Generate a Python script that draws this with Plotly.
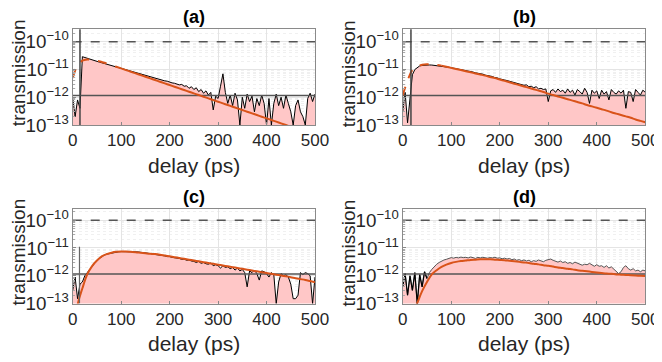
import plotly.graph_objects as go

# ---------------- data ----------------
delay = list(range(0, 505, 5))          # ps, measured trace grid
fit_delay = list(range(0, 510, 10))     # ps, fit grid
UNIT = 1e-12                            # measured values are given in units of 1e-12

data_a = [1.0, 0.2, 0.8, 0.4, 29, 27, 25, 24, 22, 21, 20, 18.5, 17.5, 16.5, 15.5, 14.5, 13.8, 13, 12.3, 11.6,
          11, 10.5, 9.9, 9.2, 8.7, 8.3, 7.7, 7.3, 6.9, 6.5, 6.1, 5.8, 5.5, 5.1, 4.9, 4.6, 4.4, 4.1, 3.9, 3.8,
          3.5, 3.3, 3.2, 3.0, 2.8, 2.9, 2.5, 2.6, 2.1, 2.4, 1.9, 2.2, 1.6, 1.9, 1.4, 1.7, 1.2, 1.5, 0.35, 1.1,
          0.9, 2.5, 7.0, 1.5, 0.6, 1.2, 0.5, 1.4, 0.8, 0.1, 1.0, 0.4, 1.3, 0.7, 1.1, 0.3, 0.9, 0.5, 1.2, 0.6,
          0.1, 0.9, 0.1, 0.6, 1.3, 0.5, 1.0, 0.4, 1.2, 0.6, 0.3, 0.1, 0.5, 0.8, 0.3, 0.2, 0.1, 0.9, 1.4, 0.7,
          1.3]
data_b = [0.3, 1.5, 0.12, 0.8, 6.5, 10, 12, 13.5, 14, 14.5, 14.8, 14.6, 14.5, 14.2, 14, 13.5, 13.2, 12.7, 12.4, 12,
          11.6, 11.2, 10.7, 10.4, 9.9, 9.6, 9.1, 8.8, 8.3, 8.1, 7.6, 7.4, 6.9, 6.8, 6.3, 6.1, 5.7, 5.6, 5.1, 5.0,
          4.6, 4.5, 4.2, 4.0, 3.8, 3.6, 3.4, 3.3, 3.0, 3.0, 2.7, 2.8, 2.4, 2.5, 2.2, 2.4, 2.0, 2.1, 1.9, 2.0,
          0.7, 1.7, 1.9, 1.5, 2.0, 1.6, 1.8, 1.4, 2.0, 1.5, 1.8, 1.2, 1.9, 1.6, 1.3, 2.1, 1.5, 0.6, 1.8, 1.4,
          1.7, 0.9, 1.8, 1.3, 1.6, 0.8, 1.9, 1.5, 1.3, 1.7, 1.4, 1.8, 0.4, 1.6, 1.5, 0.7, 1.9, 1.5, 1.2, 1.8,
          1.5]
data_c = [0.3, 0.9, 0.15, 0.5, 0.6, 1.0, 1.3, 1.7, 2.3, 2.9, 3.6, 4.2, 4.9, 5.5, 6.0, 6.3, 6.7, 6.9, 7.1, 7.3,
          7.4, 7.4, 7.5, 7.5, 7.4, 7.5, 7.3, 7.2, 7.0, 6.9, 6.6, 6.5, 6.3, 6.0, 5.9, 5.6, 5.6, 5.3, 5.2, 4.9,
          4.9, 4.6, 4.5, 4.3, 4.2, 3.9, 4.0, 3.6, 3.7, 3.4, 3.3, 3.0, 3.3, 2.8, 3.0, 2.7, 2.6, 2.9, 2.3, 2.5,
          2.3, 1.9, 2.3, 2.0, 2.1, 1.8, 2.0, 1.6, 1.9, 1.5, 1.7, 1.3, 0.4, 1.5, 1.3, 1.6, 1.2, 0.7, 1.5, 1.4,
          1.2, 0.9, 1.3, 1.1, 0.1, 0.6, 1.2, 1.0, 1.1, 0.9, 0.5, 0.15, 0.15, 0.2, 1.3, 1.1, 1.3, 1.2, 1.0, 0.1,
          0.9]
data_d = [0.4, 1.2, 0.2, 1.0, 0.3, 1.3, 0.1, 1.1, 0.4, 1.4, 0.8, 1.3, 1.7, 2.2, 2.6, 3.0, 3.4, 3.7, 3.9, 4.2,
          4.5, 4.3, 4.6, 4.4, 4.7, 4.5, 4.6, 4.4, 4.7, 4.5, 4.2, 4.6, 4.4, 4.6, 4.5, 4.3, 4.5, 4.4, 4.6, 4.3,
          4.4, 4.1, 4.3, 4.0, 4.2, 3.8, 4.0, 3.6, 3.8, 3.5, 3.7, 3.4, 3.6, 3.2, 3.5, 3.3, 3.7, 3.4, 3.2, 3.6,
          3.8, 4.0, 3.6, 3.3, 3.1, 3.4, 3.0, 3.2, 2.8, 3.0, 2.7, 3.1, 2.8, 2.6, 2.4, 2.6, 2.5, 2.8, 2.4, 2.2,
          2.5, 2.2, 2.3, 2.0, 2.3, 1.9, 2.1, 1.7, 1.4, 1.2, 1.4, 2.0, 2.3, 1.8, 1.6, 1.8, 1.5, 1.6, 1.4, 1.6,
          1.5]

# fits, log10 of transmission
fit_a_log = [-11.30, -10.85, -10.68, -10.64, -10.65, -10.68, -10.73, -10.78, -10.84, -10.90, -10.96,
             -11.02, -11.08, -11.14, -11.20, -11.26, -11.32, -11.38, -11.44, -11.50, -11.56,
             -11.62, -11.68, -11.74, -11.80, -11.86, -11.92, -11.98, -12.04, -12.10, -12.16,
             -12.22, -12.28, -12.34, -12.40, -12.46, -12.52, -12.58, -12.64, -12.70, -12.76,
             -12.82, -12.88, -12.94, -13.00, -13.06, -13.12, -13.18, -13.24, -13.30, -13.36]
fit_b_log = [-11.93, -11.40, -11.02, -10.88, -10.83, -10.81, -10.81, -10.83, -10.86, -10.90, -10.94,
             -10.98, -11.02, -11.06, -11.10, -11.14, -11.18, -11.22, -11.27, -11.31, -11.36,
             -11.41, -11.46, -11.51, -11.56, -11.61, -11.66, -11.71, -11.76, -11.81, -11.87,
             -11.92, -11.97, -12.02, -12.07, -12.12, -12.17, -12.22, -12.28, -12.33, -12.38,
             -12.43, -12.48, -12.54, -12.59, -12.64, -12.69, -12.74, -12.80, -12.85, -12.90]
fit_c_log = [-14.50, -13.05, -12.45, -11.95, -11.65, -11.45, -11.30, -11.22, -11.17, -11.14, -11.13,
             -11.13, -11.14, -11.15, -11.17, -11.19, -11.21, -11.22, -11.24, -11.27, -11.30,
             -11.33, -11.36, -11.39, -11.42, -11.45, -11.48, -11.51, -11.54, -11.57, -11.60,
             -11.63, -11.66, -11.69, -11.72, -11.75, -11.78, -11.81, -11.84, -11.87, -11.90,
             -11.93, -11.96, -11.99, -12.02, -12.05, -12.09, -12.12, -12.15, -12.19, -12.23]
fit_d_log = [-15.00, -14.20, -13.40, -12.98, -12.55, -12.22, -11.95, -11.80, -11.68, -11.60, -11.54,
             -11.50, -11.47, -11.45, -11.43, -11.42, -11.41, -11.41, -11.41, -11.42, -11.43,
             -11.44, -11.46, -11.48, -11.50, -11.52, -11.54, -11.57, -11.59, -11.62, -11.64,
             -11.67, -11.70, -11.72, -11.75, -11.77, -11.80, -11.82, -11.84, -11.86, -11.88,
             -11.90, -11.92, -11.93, -11.95, -11.96, -11.97, -11.98, -11.99, -12.00, -12.01]

panel_labels = ["(a)", "(b)", "(c)", "(d)"]
x_title = "delay (ps)"
y_title = "transmission"
fit_dashed_until = [100, 80, 0, 0]       # ps: fit drawn dashed before this delay
t0_marker = [15, 17, None, None]          # ps: full-height time-zero marker
t0_spike_c = (14, 1.1e-11)                # narrow spike in (c)
early_black_until_d = 50                  # ps: black noisy part in (d)
level_max = 1e-10                         # dashed reference level
level_noise = 1.15e-12                    # noise floor level
x_ticks = [0, 100, 200, 300, 400, 500]

# ---------------- layout helpers ----------------
# page offset: the browser body has an 8px margin
OFF = 8
W, H = 662 - OFF, 362 - OFF


def px_x(p):
    return (p - OFF) / W


def px_y(p):
    return 1 - (p - OFF) / H


xdom = [[px_x(72.7), px_x(315)], [px_x(402.7), px_x(645.3)]]
ydom = [[px_y(125), px_y(29.3)], [px_y(303.6), px_y(209.3)]]
plot_bottom = [125, 303.6]
plot_top = [29.3, 209.3]
col_left = [0, 330]
yrange = [[-13, -9.55], [-13, -9.61]]

FONT = "Liberation Sans, Arial, sans-serif"
TXT = "#262626"
PINK = "rgb(255,199,199)"
ORANGE = "#D95319"
REF = "#555555"

fig = go.Figure()

datas = [data_a, data_b, data_c, data_d]
fits = [fit_a_log, fit_b_log, fit_c_log, fit_d_log]

for i in range(4):
    r, c = divmod(i, 2)
    n = i + 1
    xa = "x" if n == 1 else f"x{n}"
    ya = "y" if n == 1 else f"y{n}"
    vals = [v * UNIT for v in datas[i]]

    # baseline for fill
    fig.add_trace(go.Scatter(x=[0, 500], y=[1e-14, 1e-14], mode="lines",
                             line=dict(width=0, color=PINK), showlegend=False,
                             hoverinfo="skip", xaxis=xa, yaxis=ya))
    edge = "#555555" if i == 3 else "black"
    fig.add_trace(go.Scatter(x=delay, y=vals, mode="lines", fill="tonexty",
                             fillcolor=PINK, line=dict(color=edge, width=1),
                             showlegend=False, xaxis=xa, yaxis=ya))
    if i == 3:
        k = delay.index(early_black_until_d) + 1
        fig.add_trace(go.Scatter(x=delay[:k], y=vals[:k], mode="lines",
                                 line=dict(color="black", width=1.2),
                                 showlegend=False, xaxis=xa, yaxis=ya))

    # reference levels
    fig.add_trace(go.Scatter(x=[0, 500], y=[level_max, level_max], mode="lines",
                             line=dict(color=REF, width=1.5, dash="dash"),
                             showlegend=False, xaxis=xa, yaxis=ya))
    fig.add_trace(go.Scatter(x=[0, 500], y=[level_noise, level_noise], mode="lines",
                             line=dict(color=REF, width=1.5),
                             showlegend=False, xaxis=xa, yaxis=ya))

    # fit
    fvals = [10 ** v for v in fits[i]]
    cut = fit_dashed_until[i]
    if cut > 0:
        k = fit_delay.index(cut) + 1
        fig.add_trace(go.Scatter(x=fit_delay[:k], y=fvals[:k], mode="lines",
                                 line=dict(color=ORANGE, width=2, dash="dash", shape="spline"),
                                 showlegend=False, xaxis=xa, yaxis=ya))
        fig.add_trace(go.Scatter(x=fit_delay[k - 1:], y=fvals[k - 1:], mode="lines",
                                 line=dict(color=ORANGE, width=2, shape="spline"),
                                 showlegend=False, xaxis=xa, yaxis=ya))
    else:
        fig.add_trace(go.Scatter(x=fit_delay, y=fvals, mode="lines",
                                 line=dict(color=ORANGE, width=2, shape="spline"),
                                 showlegend=False, xaxis=xa, yaxis=ya))

    # time-zero markers
    if t0_marker[i] is not None:
        fig.add_shape(type="line", x0=t0_marker[i], x1=t0_marker[i], y0=0, y1=1,
                      xref=xa, yref=f"{ya} domain", line=dict(color="#444444", width=1.5))
    if i == 2:
        fig.add_trace(go.Scatter(x=[t0_spike_c[0], t0_spike_c[0]], y=[1e-13, t0_spike_c[1]],
                                 mode="lines", line=dict(color="#666666", width=1.2),
                                 showlegend=False, xaxis=xa, yaxis=ya))

    axkey = "xaxis" if n == 1 else f"xaxis{n}"
    aykey = "yaxis" if n == 1 else f"yaxis{n}"
    fig.update_layout(**{
        axkey: dict(domain=xdom[c], anchor=ya, range=[0, 500], tickvals=x_ticks,
                    ticks="inside", ticklen=3, tickcolor="#888", showline=True,
                    linecolor="#8a8a8a", linewidth=1, mirror=True, showgrid=True,
                    gridcolor="#e4e4e4", zeroline=False, automargin=False,
                    ticklabeloverflow="allow",
                    tickfont=dict(family=FONT, size=17, color=TXT)),
        aykey: dict(domain=ydom[r], anchor=xa, type="log", range=yrange[r], dtick=1,
                    exponentformat="power", ticks="inside", ticklen=3, tickcolor="#888",
                    showline=True, linecolor="#8a8a8a", linewidth=1, mirror=True,
                    showgrid=True, gridcolor="#e4e4e4", zeroline=False, automargin=False,
                    ticklabeloverflow="allow",
                    minor=dict(dtick="D1", ticks="inside", ticklen=2, tickcolor="#aaa",
                               showgrid=True, gridcolor="#f0f0f0", griddash="dot"),
                    tickfont=dict(family=FONT, size=15, color=TXT)),
    })

    # panel title
    fig.add_annotation(text=f"<b>{panel_labels[i]}</b>", xref="paper", yref="paper",
                       x=(xdom[c][0] + xdom[c][1]) / 2, y=px_y(plot_top[r] - 12),
                       xanchor="center", yanchor="middle", showarrow=False,
                       font=dict(family=FONT, size=18, color="black"))
    # x title
    fig.add_annotation(text=x_title, xref="paper", yref="paper",
                       x=(xdom[c][0] + xdom[c][1]) / 2, y=px_y(plot_bottom[r] + 40),
                       xanchor="center", yanchor="middle", showarrow=False,
                       font=dict(family=FONT, size=21, color=TXT))
    # y title
    fig.add_annotation(text=y_title, xref="paper", yref="paper", textangle=-90,
                       x=px_x(col_left[c] + 18), y=px_y((plot_top[r] + plot_bottom[r]) / 2 - 4),
                       xanchor="center", yanchor="middle", showarrow=False,
                       font=dict(family=FONT, size=19, color=TXT))

fig.update_layout(width=W, height=H, margin=dict(l=0, r=0, t=0, b=0),
                  paper_bgcolor="white", plot_bgcolor="white", showlegend=False)

fig.write_html("out.html")
